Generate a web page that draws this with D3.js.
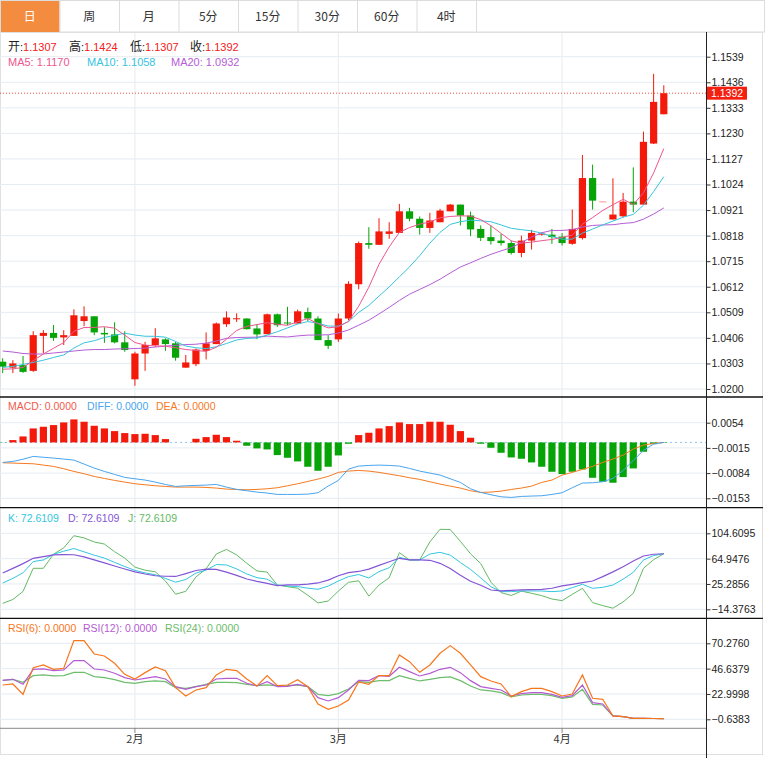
<!DOCTYPE html>
<html><head><meta charset="utf-8">
<script src="https://cdn.jsdelivr.net/npm/d3@7/dist/d3.min.js"></script>
<style>
body{margin:0;background:#fff;}
svg{display:block;}
.num{font-family:"Liberation Sans",Arial,sans-serif;}
.cjk{font-family:"Noto Sans CJK SC","Microsoft YaHei",sans-serif;}
</style></head>
<body>
<svg id="c" width="766" height="758"></svg>
<script>
// ---------------- DATA ----------------
const tabs = ["日","周","月","5分","15分","30分","60分","4时"];
const opens = [1.0310,1.0286,1.0296,1.0273,1.0414,1.0426,1.0408,1.0414,1.0474,1.0493,
1.0426,1.0420,1.0388,1.0239,1.0343,1.0377,1.0400,1.0384,1.0286,1.0300,
1.0354,1.0381,1.0461,1.0481,1.0484,1.0444,1.0421,1.0501,1.0468,1.0464,
1.0510,1.0484,1.0397,1.0400,1.0484,1.0622,1.0788,1.0781,1.0825,1.0829,
1.0916,1.0886,1.0849,1.0872,1.0916,1.0943,1.0899,1.0845,1.0812,1.0798,
1.0788,1.0748,1.0798,1.0824,1.0822,1.0814,1.0785,1.0808,1.1050,1.0956,
1.0883,1.0896,1.0955,1.0943,1.1189,1.1307];
const closes = [1.0290,1.0303,1.0269,1.0417,1.0426,1.0406,1.0417,1.0497,1.0493,1.0428,
1.0420,1.0388,1.0357,1.0343,1.0377,1.0404,1.0381,1.0326,1.0307,1.0359,
1.0384,1.0464,1.0488,1.0485,1.0441,1.0420,1.0501,1.0457,1.0464,1.0513,
1.0484,1.0397,1.0374,1.0484,1.0624,1.0788,1.0781,1.0835,1.0835,1.0916,
1.0886,1.0849,1.0879,1.0919,1.0943,1.0899,1.0843,1.0809,1.0796,1.0788,
1.0748,1.0798,1.0829,1.0826,1.0812,1.0788,1.0845,1.1050,1.0959,1.0956,
1.0903,1.0955,1.0943,1.1196,1.1357,1.1392];
const highs = [1.0324,1.0316,1.0333,1.0433,1.0437,1.0458,1.0437,1.0521,1.0533,1.0493,
1.0449,1.0469,1.0433,1.0350,1.0390,1.0445,1.0404,1.0390,1.0337,1.0363,
1.0428,1.0468,1.0513,1.0505,1.0485,1.0461,1.0504,1.0504,1.0531,1.0520,
1.0528,1.0493,1.0417,1.0504,1.0634,1.0794,1.0852,1.0888,1.0872,1.0946,
1.0930,1.0895,1.0910,1.0926,1.0946,1.0943,1.0915,1.0859,1.0859,1.0825,
1.0798,1.0818,1.0841,1.0831,1.0845,1.0828,1.0923,1.1143,1.1104,1.0956,
1.1049,1.0990,1.1093,1.1237,1.1470,1.1424];
const lows = [1.0264,1.0264,1.0265,1.0269,1.0345,1.0394,1.0377,1.0414,1.0453,1.0417,
1.0386,1.0384,1.0350,1.0213,1.0273,1.0370,1.0354,1.0314,1.0286,1.0292,
1.0319,1.0381,1.0450,1.0470,1.0440,1.0401,1.0421,1.0450,1.0457,1.0464,
1.0474,1.0397,1.0361,1.0390,1.0477,1.0602,1.0765,1.0781,1.0805,1.0829,
1.0876,1.0822,1.0829,1.0872,1.0916,1.0859,1.0816,1.0796,1.0782,1.0778,
1.0742,1.0731,1.0762,1.0818,1.0785,1.0778,1.0781,1.0802,1.0923,1.0956,
1.0883,1.0892,1.0912,1.0943,1.1187,1.1307];
// moving-average values before each window is full
const ma5Lead = [1.0280,1.0281,1.0287,1.0314];
const ma10Lead = [1.0287,1.0291,1.0299,1.0307,1.0316,1.0327,1.0337,1.0365,1.0386];
const ma20Lead = [1.0353,1.0349,1.0343,1.0341,1.0341,1.0345,1.0349,1.0353,1.0357,1.0359,
1.0359,1.0361,1.0362,1.0363,1.0365,1.0369,1.0373,1.0376,1.0379];
// legend read-outs shown in the picture
const maLegend = [1.1170, 1.1058, 1.0932];
const macdLegend = [0.0000, 0.0000, 0.0000];
const rsiLegend = [0.0000, 0.0000, 0.0000];

const macdHist = [-0.00005,0.00064,0.00164,0.00383,0.00429,0.00475,0.00548,0.0063,0.00566,0.00456,
0.00383,0.0031,0.00256,0.00228,0.00237,0.00201,0.00091,0,0,0.0010,
0.00146,0.0021,0.00146,0.00046,-0.00091,-0.00164,-0.00192,-0.00347,-0.0042,-0.0052,
-0.00666,-0.00776,-0.00666,-0.00356,-0.00037,0.00201,0.00265,0.00383,0.00447,0.00548,
0.00502,0.00502,0.00566,0.00566,0.00484,0.0031,0.00128,-0.00037,-0.00146,-0.00283,
-0.00411,-0.00447,-0.00548,-0.00666,-0.00803,-0.00867,-0.00803,-0.00739,-0.00968,-0.01077,
-0.01104,-0.00949,-0.00712,-0.00256,-0.00046,-0.0001];
const diffVals = [-0.00548,-0.0052,-0.00461,-0.00383,-0.00406,-0.00429,-0.00456,-0.00484,-0.00593,-0.00703,
-0.00794,-0.00876,-0.00958,-0.00995,-0.01031,-0.01086,-0.0115,-0.01205,-0.01187,-0.01177,
-0.01168,-0.0115,-0.01223,-0.01287,-0.01323,-0.0136,-0.01387,-0.01424,-0.01424,-0.01424,
-0.01415,-0.01378,-0.01196,-0.0104,-0.0073,-0.00648,-0.0063,-0.00621,-0.0063,-0.00648,
-0.00712,-0.00785,-0.0084,-0.00894,-0.00995,-0.01095,-0.01269,-0.01369,-0.01433,-0.01488,
-0.01506,-0.01479,-0.01469,-0.0146,-0.01424,-0.01378,-0.01241,-0.01113,-0.01104,-0.01077,
-0.00986,-0.00767,-0.00493,-0.00219,-0.00046,0];
const deaVals = [-0.00557,-0.00566,-0.00575,-0.00584,-0.00621,-0.00657,-0.00721,-0.00794,-0.00858,-0.00931,
-0.00986,-0.0104,-0.01086,-0.01132,-0.01159,-0.01187,-0.01205,-0.01223,-0.01223,-0.01223,
-0.01232,-0.0125,-0.01278,-0.01287,-0.01296,-0.01287,-0.01269,-0.01241,-0.01187,-0.01132,
-0.01068,-0.01004,-0.00931,-0.00821,-0.00785,-0.00767,-0.00785,-0.00821,-0.00867,-0.00913,
-0.00967,-0.01013,-0.01077,-0.01141,-0.01196,-0.0125,-0.01323,-0.01369,-0.0136,-0.01333,
-0.01287,-0.0125,-0.01196,-0.01095,-0.01031,-0.00894,-0.00821,-0.00739,-0.00657,-0.00548,
-0.00456,-0.00347,-0.00183,-0.00073,-0.00027,0];

const kVals = [26.70,34.05,42.82,60.36,62.86,71.73,76.59,80.81,75.54,70.32,
65.84,59.05,52.63,46.58,42.61,39.74,33.95,28.11,32.23,42.35,
46.89,55.66,55.09,48.88,40.94,35.15,32.80,23.62,22.10,21.16,
18.66,16.99,22.00,29.88,36.77,40.06,34.63,44.65,50.75,67.04,
62.86,62.86,72.15,74.86,70.48,58.84,48.04,34.84,20.96,13.28,
13.28,14.33,14.33,14.33,13.28,14.33,19.55,24.77,18.50,20.07,
23.57,32.80,43.50,62.86,69.75,72.6109];
const dVals = [42.35,49.71,57.17,65.42,68.08,70.69,71.26,71.05,67.77,62.97,
58.22,53.42,48.67,44.13,40.94,38.18,37.34,37.03,41.52,46.32,
48.61,48.25,43.71,38.65,33.11,29.25,26.23,22.73,23.72,23.72,
24.92,26.85,31.39,38.23,43.03,44.86,48.51,54.46,60.15,65.47,
62.86,62.86,62.34,57.64,49.61,39.06,29.62,23.20,15.84,14.33,
15.37,15.89,16.42,16.94,18.61,22.16,24.77,27.37,29.98,36.77,
44.28,52.16,61.24,69.12,71.79,72.6109];
const jVals = [-5.14,0.97,13.65,49.81,49.81,71.94,81.81,100.80,97.41,91.04,
87.75,75.75,65.78,51.64,46.84,44.34,29.88,9.27,13.75,36.25,
48.98,72.20,79.35,70.79,57.64,45.64,43.92,23.56,21.01,18.61,
7.60,-4.41,-1.43,14.12,27.90,30.24,6.24,23.56,35.05,74.34,
62.86,62.86,91.20,110.87,110.51,91.98,72.52,57.23,28.16,11.72,
7.23,14.07,10.67,7.02,1.75,-0.81,9.06,18.50,-3.89,-8.63,
-12.65,-2.74,10.57,49.81,63.33,72.6109];

const rsi6 = [31.39,32.33,22.68,47.57,50.06,46.01,46.95,72.76,72.76,60.32,
58.45,51.61,41.35,36.99,42.90,48.19,44.77,28.91,21.13,26.73,
28.91,40.72,46.01,44.77,36.99,30.46,40.10,30.77,31.39,36.37,
29.84,13.67,8.69,11.80,17.40,34.19,32.02,40.10,40.10,59.39,
53.17,43.21,50.06,60.94,68.10,60.94,50.06,39.17,35.13,32.33,
20.51,25.17,28.28,28.28,25.17,21.13,23.00,40.72,18.95,18.02,
2.47,1.85,0.3,0.2,0.1,0];
const rsi12 = [35.75,36.68,32.02,46.01,46.32,44.77,45.39,54.10,54.10,46.32,
45.39,42.28,38.24,36.06,37.61,39.17,36.99,29.84,27.35,29.84,
31.39,36.99,37.61,37.61,32.95,30.46,34.51,29.84,30.15,32.02,
29.84,19.57,16.46,19.57,26.73,35.75,35.44,40.10,39.48,47.88,
43.83,39.79,42.28,46.01,47.88,42.90,35.44,29.84,28.28,26.73,
21.13,23.31,24.24,24.24,22.68,19.89,21.44,31.39,14.91,13.67,
2.47,1.85,0.3,0.2,0.1,0];
const rsi24 = [35.75,36.68,33.88,40.10,40.72,39.79,40.10,43.21,43.21,39.17,
38.24,36.37,33.88,32.95,34.51,35.13,34.51,28.91,28.28,29.84,
32.02,33.88,33.88,33.57,32.02,30.77,31.39,30.46,30.77,31.39,
29.84,22.68,21.44,23.31,27.66,34.51,33.88,35.44,35.44,40.10,
37.61,35.13,36.68,38.24,38.86,35.44,30.46,26.73,25.80,24.24,
20.20,22.06,22.68,22.68,21.44,18.95,20.20,27.35,13.35,12.73,
2.47,1.85,0.3,0.2,0.1,0];

const priceTicks = [1.1539,1.1436,1.1333,1.1230,1.1127,1.1024,1.0921,1.0818,1.0715,1.0612,1.0509,1.0406,1.0303,1.0200];
const macdTicks = [0.0054,-0.0015,-0.0084,-0.0153];
const kdjTicks = [104.6095,64.9476,25.2856,-14.3763];
const rsiTicks = [70.2760,46.6379,22.9998,-0.6383];
const monthLabels = ["2月","3月","4月"];
const monthStart = [13,33,55];

// ---------------- DRAW ----------------
const n = closes.length;
const svg = d3.select("#c");
const AX = 706;
const UP = "#f31a0b", DN = "#06a406", GRID = "#e5ecf2";
const fmt4 = d3.format(".4f");

function ma(period, lead){
  return closes.map((c,i)=> i < period-1 ? lead[i] : d3.mean(closes.slice(i-period+1,i+1)));
}
const ma5 = ma(5, ma5Lead), ma10 = ma(10, ma10Lead), ma20 = ma(20, ma20Lead);

const x = d3.scaleLinear().domain([0, n-1]).range([2.7, 663.8]);
const yP = d3.scaleLinear().domain([1.0200, 1.1539]).range([389, 56.7]);
const yM = d3.scaleLinear().domain([-0.0153, 0.0054]).range([498.3, 422.7]);
const yK = d3.scaleLinear().domain([-14.3763, 104.6095]).range([609.3, 533.3]);
const yR = d3.scaleLinear().domain([-0.6383, 70.2760]).range([719.3, 643.3]);

// tabs
const tabW = 59.5;
svg.append("rect").attr("x",0.5).attr("y",0.5).attr("width",764).attr("height",31.5)
  .attr("fill","#fff").attr("stroke","#dcdcdc");
tabs.forEach((t,i)=>{
  const g = svg.append("g");
  if(i===0) g.append("rect").attr("x",1).attr("y",1).attr("width",tabW-1).attr("height",31).attr("fill","#f48c3f");
  g.append("line").attr("x1",(i+1)*tabW+0.5).attr("x2",(i+1)*tabW+0.5).attr("y1",1).attr("y2",32).attr("stroke","#dcdcdc");
  g.append("text").attr("class","cjk").attr("x",i*tabW+tabW/2).attr("y",20.5).attr("text-anchor","middle")
    .attr("font-size",12).attr("fill", i===0?"#fff":"#333").text(t);
});

// outer frame
svg.append("rect").attr("x",0.5).attr("y",32.5).attr("width",762).attr("height",722).attr("fill","none").attr("stroke","#e0e0e0");

// grids
function hgrid(scale, ticks){
  svg.append("g").selectAll("line").data(ticks).join("line")
    .attr("x1",0).attr("x2",AX).attr("y1",d=>scale(d)).attr("y2",d=>scale(d))
    .attr("stroke",GRID).attr("stroke-width",1);
}
hgrid(yP, priceTicks); hgrid(yM, macdTicks); hgrid(yK, kdjTicks); hgrid(yR, rsiTicks);
svg.append("g").selectAll("line").data(monthStart).join("line")
  .attr("x1",d=>x(d)).attr("x2",d=>x(d)).attr("y1",33).attr("y2",728)
  .attr("stroke",GRID).attr("stroke-width",1);

// candles
const cg = svg.append("g");
d3.range(n).forEach(i=>{
  const up = closes[i] >= opens[i];
  const col = up ? UP : DN;
  const cx = x(i);
  const flat = highs[i]===lows[i];
  if(!flat){
    cg.append("line").attr("x1",cx).attr("x2",cx).attr("y1",yP(highs[i])).attr("y2",yP(lows[i]))
      .attr("stroke",col).attr("stroke-width",1);
  }
  const y1 = yP(Math.max(opens[i],closes[i])), y2 = yP(Math.min(opens[i],closes[i]));
  const h = Math.max(1, y2-y1);
  cg.append("rect").attr("x",cx-3.6).attr("y",y1).attr("width",7.2).attr("height",h)
    .attr("fill",col).attr("opacity", flat?0.45:1);
});

// MA lines
const lineP = arr => d3.line().x((d,i)=>x(i)).y(d=>yP(d))(arr);
[[ma20,"#b65cd6"],[ma10,"#37c4dd"],[ma5,"#f0558f"]].forEach(([a,c])=>{
  svg.append("path").attr("d",lineP(a)).attr("fill","none").attr("stroke",c).attr("stroke-width",1);
});

// last price line
const last = closes[n-1];
svg.append("line").attr("x1",0).attr("x2",AX).attr("y1",yP(last)).attr("y2",yP(last))
  .attr("stroke","#f04a3a").attr("stroke-dasharray","1,2").attr("stroke-width",1);

// MACD
svg.append("line").attr("x1",0).attr("x2",AX).attr("y1",yM(0)).attr("y2",yM(0))
  .attr("stroke","#8cc4ea").attr("stroke-dasharray","2,3");
svg.append("g").selectAll("rect").data(macdHist).join("rect")
  .attr("x",(d,i)=>x(i)-3.6).attr("width",7.2)
  .attr("y",d=>Math.min(yM(d),yM(0))).attr("height",d=>Math.abs(yM(d)-yM(0)))
  .attr("fill",d=>d>=0?UP:DN);
const lineM = arr => d3.line().x((d,i)=>x(i)).y(d=>yM(d))(arr);
svg.append("path").attr("d",lineM(deaVals)).attr("fill","none").attr("stroke","#f57a1f").attr("stroke-width",1);
svg.append("path").attr("d",lineM(diffVals)).attr("fill","none").attr("stroke","#4aa5ee").attr("stroke-width",1);

// KDJ
const lineK = arr => d3.line().x((d,i)=>x(i)).y(d=>yK(d))(arr);
svg.append("path").attr("d",lineK(jVals)).attr("fill","none").attr("stroke","#64b964").attr("stroke-width",1);
svg.append("path").attr("d",lineK(kVals)).attr("fill","none").attr("stroke","#33c6e0").attr("stroke-width",1);
svg.append("path").attr("d",lineK(dVals)).attr("fill","none").attr("stroke","#8456d6").attr("stroke-width",1.2);

// RSI
const lineR = arr => d3.line().x((d,i)=>x(i)).y(d=>yR(d))(arr);
svg.append("path").attr("d",lineR(rsi24)).attr("fill","none").attr("stroke","#6cbd6c").attr("stroke-width",1.2);
svg.append("path").attr("d",lineR(rsi12)).attr("fill","none").attr("stroke","#b45bd2").attr("stroke-width",1.2);
svg.append("path").attr("d",lineR(rsi6)).attr("fill","none").attr("stroke","#f7761c").attr("stroke-width",1.2);

// separators
[397, 507.7, 618.3].forEach(yy=>{
  svg.append("line").attr("x1",0).attr("x2",763).attr("y1",yy).attr("y2",yy).attr("stroke","#111").attr("stroke-width",1.3);
});
svg.append("line").attr("x1",0).attr("x2",AX).attr("y1",728.3).attr("y2",728.3).attr("stroke","#888").attr("stroke-width",1);
svg.append("line").attr("x1",AX+0.5).attr("x2",AX+0.5).attr("y1",32).attr("y2",758).attr("stroke","#222").attr("stroke-width",1);

// right axes
function rAxis(scale, ticks){
  const g = svg.append("g").attr("transform",`translate(${AX+0.5},0)`)
    .call(d3.axisRight(scale).tickValues(ticks).tickSize(4).tickPadding(1).tickFormat(fmt4));
  g.select(".domain").remove();
  g.selectAll(".tick line").attr("stroke","#333");
  g.selectAll("text").attr("class","num").attr("font-size",10.5).attr("fill","#222").attr("font-family",null);
}
rAxis(yP, priceTicks); rAxis(yM, macdTicks); rAxis(yK, kdjTicks); rAxis(yR, rsiTicks);

// price tag
svg.append("rect").attr("x",AX+1).attr("y",yP(last)-6.5).attr("width",40).attr("height",13).attr("fill","#f41f10");
svg.append("text").attr("class","num").attr("x",AX+5).attr("y",yP(last)+3.8).attr("font-size",10.5)
  .attr("fill","#fff").text(fmt4(last));

// month axis
svg.append("g").selectAll("line").data(monthStart).join("line")
  .attr("x1",d=>x(d)).attr("x2",d=>x(d)).attr("y1",728).attr("y2",733).attr("stroke","#888");
svg.append("g").selectAll("text").data(monthLabels).join("text").attr("class","cjk")
  .attr("x",(d,i)=>x(monthStart[i])).attr("y",743).attr("text-anchor","middle")
  .attr("font-size",11).attr("fill","#333").text(d=>d);

// legends
function legend(y, size, items){
  items.forEach(([px, parts])=>{
    const t = svg.append("text").attr("class","num").attr("x",px).attr("y",y).attr("font-size",size);
    parts.forEach(([s,c,cjk])=>{
      const ts = t.append("tspan").attr("fill",c).text(s);
      if(cjk) ts.attr("class","cjk").attr("font-size",12);
    });
  });
}
const RED = "#f3201a";
legend(51, 11, [[8,[["开","#222",1],[":","#222"],[fmt4(opens[n-1]),RED]]],
            [69,[["高","#222",1],[":","#222"],[fmt4(highs[n-1]),RED]]],
            [130,[["低","#222",1],[":","#222"],[fmt4(lows[n-1]),RED]]],
            [190,[["收","#222",1],[":","#222"],[fmt4(closes[n-1]),RED]]]]);
legend(66, 11, [[8,[["MA5: "+fmt4(maLegend[0]),"#f0558f"]]],
            [87,[["MA10: "+fmt4(maLegend[1]),"#37c4dd"]]],
            [171,[["MA20: "+fmt4(maLegend[2]),"#b65cd6"]]]]);
legend(410, 10.5, [[8,[["MACD: "+fmt4(macdLegend[0]),"#f25a4e"]]],[87,[["DIFF: "+fmt4(macdLegend[1]),"#4aa5ee"]]],[156,[["DEA: "+fmt4(macdLegend[2]),"#f57a1f"]]]]);
legend(521.5, 10.5, [[8,[["K: "+fmt4(kVals[n-1]),"#33c6e0"]]],[68,[["D: "+fmt4(dVals[n-1]),"#8456d6"]]],[128,[["J: "+fmt4(jVals[n-1]),"#64b964"]]]]);
legend(631.5, 10.5, [[8,[["RSI(6): "+fmt4(rsiLegend[0]),"#f7761c"]]],[83,[["RSI(12): "+fmt4(rsiLegend[1]),"#b45bd2"]]],[165,[["RSI(24): "+fmt4(rsiLegend[2]),"#6cbd6c"]]]]);
</script>
</body></html>
